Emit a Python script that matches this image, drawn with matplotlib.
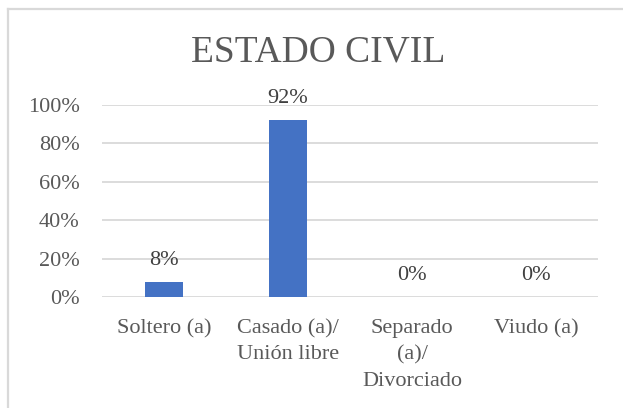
import matplotlib
matplotlib.use("Agg")
import matplotlib.pyplot as plt
from matplotlib.lines import Line2D
from matplotlib.ticker import PercentFormatter

categories = ["Soltero (a)", "Casado (a)/\nUnión libre", "Separado\n(a)/\nDivorciado", "Viudo (a)"]
values = [8, 92, 0, 0]
yticks = [0, 20, 40, 60, 80, 100]

W, H = 623, 408
dpi = 100
fig = plt.figure(figsize=(W / dpi, H / dpi), dpi=dpi)
plt.rcParams['font.family'] = ['Liberation Serif', 'DejaVu Serif']

# plot area in pixels
x0, x1 = 102, 598
y_top, y_bot = 105, 297
ax = fig.add_axes([x0 / W, 1 - y_bot / H, (x1 - x0) / W, (y_bot - y_top) / H])

xs = list(range(len(categories)))
ax.bar(xs, values, width=0.31, color="#4472C4", zorder=3)
ax.set_xlim(-0.5, len(categories) - 0.5)
ax.set_ylim(0, 100)
ax.set_yticks(yticks)
ax.yaxis.set_major_formatter(PercentFormatter(decimals=0))
ax.grid(axis="y", color="#D9D9D9", linewidth=1.3, zorder=0)
for s in ax.spines.values():
    s.set_visible(False)
ax.tick_params(axis="both", length=0, labelsize=16, labelcolor="#595959")
ax.tick_params(axis="y", pad=16)
ax.tick_params(axis="x", pad=16)
ax.set_xticks(xs)
ax.set_xticklabels(categories, linespacing=1.5)

for x, v in zip(xs, values):
    ax.annotate(f"{v}%", (x, v), xytext=(0, 15.5), textcoords="offset points",
                ha="center", va="center", fontsize=16, color="#404040")

fig.text(318 / W, 1 - 52 / H, "ESTADO CIVIL", ha="center", va="center",
         fontsize=27, color="#595959")

# chart border (left and top visible)
fig.add_artist(Line2D([7.5 / W, 7.5 / W], [0, 1 - 8.5 / H], color="#D9D9D9", linewidth=1.6,
                      transform=fig.transFigure))
fig.add_artist(Line2D([7.5 / W, 1], [1 - 8.5 / H, 1 - 8.5 / H], color="#D9D9D9", linewidth=1.6,
                      transform=fig.transFigure))

fig.savefig("out.png", dpi=dpi)
